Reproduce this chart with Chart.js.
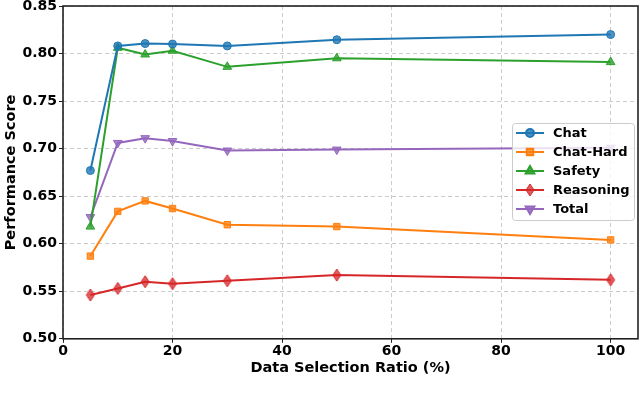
<!DOCTYPE html>
<html>
<head>
<meta charset="utf-8">
<script src="https://cdn.jsdelivr.net/npm/chart.js@4.4.1/dist/chart.umd.min.js"></script>
<style>
  html, body { margin: 0; padding: 0; background: #fff; }
  #wrap { width: 640px; height: 397px; }
</style>
</head>
<body>
<div id="wrap"><canvas id="chart" width="640" height="397"></canvas></div>
<script>
const ratios = [5, 10, 15, 20, 30, 50, 100];

const chatScores      = [0.677, 0.808, 0.8105, 0.810, 0.808, 0.8145, 0.820];
const chatHardScores  = [0.587, 0.634, 0.645, 0.637, 0.620, 0.618, 0.604];
const safetyScores    = [0.618, 0.806, 0.799, 0.803, 0.786, 0.795, 0.791];
const reasoningScores = [0.546, 0.553, 0.560, 0.558, 0.561, 0.567, 0.562];
const totalScores     = [0.628, 0.706, 0.711, 0.708, 0.698, 0.699, 0.701];

const seriesNames = ["Chat", "Chat-Hard", "Safety", "Reasoning", "Total"];
const xTicks = [0, 20, 40, 60, 80, 100];
const yTicks = [0.50, 0.55, 0.60, 0.65, 0.70, 0.75, 0.80, 0.85];

const font = "'DejaVu Sans', sans-serif";

function pts(vals) {
    return ratios.map((x, i) => ({ x: x, y: vals[i] }));
}

// thin diamond marker like matplotlib's "d"
function thinDiamond(color) {
    const c = document.createElement("canvas");
    c.width = 10; c.height = 14;
    const g = c.getContext("2d");
    g.fillStyle = color;
    g.strokeStyle = color;
    g.lineWidth = 1;
    g.beginPath();
    g.moveTo(5, 1); g.lineTo(9, 7); g.lineTo(5, 13); g.lineTo(1, 7);
    g.closePath();
    g.globalAlpha = 0.75;
    g.fill();
    g.globalAlpha = 1;
    g.stroke();
    return c;
}

function makeSet(label, vals, color, style, rot, radius) {
    return {
        label: label,
        data: pts(vals),
        borderColor: color,
        backgroundColor: color,
        borderWidth: 2,
        pointStyle: style,
        pointRotation: rot || 0,
        pointRadius: radius,
        pointBorderWidth: 1,
        pointBorderColor: color,
        pointBackgroundColor: color + "cc",
        tension: 0
    };
}

// frame on all four sides of the plot area
const framePlugin = {
    id: "frame",
    afterDraw(chart) {
        const a = chart.chartArea;
        const ctx = chart.ctx;
        ctx.save();
        ctx.strokeStyle = "#222";
        ctx.lineWidth = 1.6;
        ctx.strokeRect(a.left, a.top, a.right - a.left, a.bottom - a.top);
        ctx.restore();
    }
};

// matplotlib-like legend box inside the plot
const legendPlugin = {
    id: "boxLegend",
    afterDraw(chart) {
        const ctx = chart.ctx;
        const x0 = 512, y0 = 123, w = 122, h = 97;
        ctx.save();
        ctx.fillStyle = "rgba(255,255,255,0.8)";
        ctx.strokeStyle = "#cccccc";
        ctx.lineWidth = 1;
        ctx.beginPath();
        ctx.roundRect(x0 + 0.5, y0 + 0.5, w, h, 3);
        ctx.fill();
        ctx.stroke();
        ctx.font = "bold 13px " + font;
        ctx.textBaseline = "middle";
        chart.data.datasets.forEach((ds, i) => {
            const cy = y0 + 10 + i * 19;
            ctx.strokeStyle = ds.borderColor;
            ctx.lineWidth = 2;
            ctx.beginPath();
            ctx.moveTo(x0 + 4, cy);
            ctx.lineTo(x0 + 32, cy);
            ctx.stroke();
            ctx.fillStyle = ds.pointBackgroundColor;
            Chart.helpers.drawPoint(ctx, {
                pointStyle: ds.pointStyle,
                rotation: ds.pointRotation,
                radius: ds.pointRadius,
                borderWidth: 1
            }, x0 + 18, cy);
            ctx.fillStyle = "#000";
            ctx.fillText(ds.label, x0 + 41, cy + 1);
        });
        ctx.restore();
    }
};

const gridOpts = { color: "#cccccc", lineWidth: 1, tickLength: 4, tickColor: "#222", tickBorderDash: [] };

new Chart(document.getElementById("chart"), {
    type: "line",
    data: {
        datasets: [
            makeSet(seriesNames[0], chatScores, "#1f77b4", "circle", 0, 4),
            makeSet(seriesNames[1], chatHardScores, "#ff7f0e", "rect", 0, 4.5),
            makeSet(seriesNames[2], safetyScores, "#2ca02c", "triangle", 0, 5),
            makeSet(seriesNames[3], reasoningScores, "#d62728", thinDiamond("#d62728"), 0, 5),
            makeSet(seriesNames[4], totalScores, "#9467bd", "triangle", 180, 5)
        ]
    },
    options: {
        responsive: false,
        animation: false,
        layout: { autoPadding: false, padding: { top: 6, right: 2, bottom: 20, left: 0 } },
        plugins: { legend: { display: false }, tooltip: { enabled: false } },
        scales: {
            x: {
                type: "linear",
                min: 0,
                max: 105,
                afterBuildTicks: s => { s.ticks = xTicks.map(v => ({ value: v })); },
                afterFit: s => { s.paddingLeft = 0; s.paddingRight = 0; },
                ticks: { color: "#000", font: { family: font, size: 14, weight: "bold" }, padding: 0, maxRotation: 0 },
                grid: gridOpts,
                border: { display: false, dash: [4, 3] },
                title: { display: true, text: "Data Selection Ratio (%)", color: "#000", font: { family: font, size: 14.5, weight: "bold" }, padding: { top: 0, bottom: 0 } }
            },
            y: {
                min: 0.50,
                max: 0.85,
                afterBuildTicks: s => { s.ticks = yTicks.map(v => ({ value: v })); },
                afterFit: s => { s.width = 63; s.paddingTop = 0; s.paddingBottom = 0; },
                ticks: { color: "#000", font: { family: font, size: 14, weight: "bold" }, padding: 2, callback: v => v.toFixed(2) },
                grid: gridOpts,
                border: { display: false, dash: [4, 3] },
                title: { display: true, text: "Performance Score", color: "#000", font: { family: font, size: 14.5, weight: "bold" }, padding: { top: 3, bottom: 1 } }
            }
        }
    },
    plugins: [framePlugin, legendPlugin]
});
</script>
</body>
</html>
